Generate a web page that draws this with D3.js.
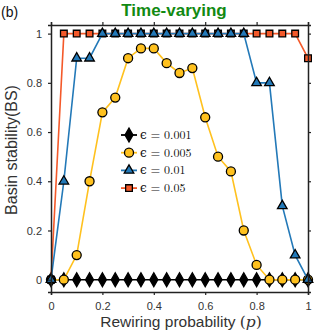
<!DOCTYPE html>
<html>
<head>
<meta charset="utf-8">
<script src="https://cdn.jsdelivr.net/npm/d3@7"></script>
<style>
  body { margin: 0; background: #fff; }
  svg { display: block; font-family: "Liberation Sans", Arial, sans-serif; }
</style>
</head>
<body>
<div id="chart"></div>
<script>
// Rewiring probability p (x values)
const pValues = [0, 0.05, 0.1, 0.15, 0.2, 0.25, 0.3, 0.35, 0.4, 0.45, 0.5,
                 0.55, 0.6, 0.65, 0.7, 0.75, 0.8, 0.85, 0.9, 0.95, 1];

// Basin stability per epsilon
const bsEps0001 = [0, 0, 0, 0, 0, 0, 0, 0, 0, 0, 0, 0, 0, 0, 0, 0, 0, 0, 0, 0, 0];
const bsEps0005 = [0, 0, 0.1, 0.4, 0.68, 0.74, 0.9, 0.94, 0.94, 0.88, 0.84,
                   0.86, 0.66, 0.5, 0.44, 0.2, 0.06, 0, 0, 0, 0];
const bsEps001  = [0, 0.4, 0.9, 0.9, 1, 1, 1, 1, 1, 1, 1,
                   1, 1, 1, 1, 1, 0.8, 0.8, 0.3, 0.1, 0];
const bsEps005  = [0, 1, 1, 1, 1, 1, 1, 1, 1, 1, 1,
                   1, 1, 1, 1, 1, 1, 1, 1, 1, 0.9];

const xTicks = [0, 0.2, 0.4, 0.6, 0.8, 1];
const yTicks = [0, 0.2, 0.4, 0.6, 0.8, 1];

const series = [
    { label: "0.001", values: bsEps0001, color: "#000000", fill: "#000000", symbol: "diamond" },
    { label: "0.005", values: bsEps0005, color: "#FFC11E", fill: "#FFC11E", symbol: "circle" },
    { label: "0.05",  values: bsEps005,  color: "#F4592A", fill: "#F4592A", symbol: "square" },
    { label: "0.01",  values: bsEps001,  color: "#2379B8", fill: "#2379B8", symbol: "triangle" }
];
const legendOrder = ["0.001", "0.005", "0.01", "0.05"];

const width = 316, height = 333;
const margin = { left: 51, right: 8, top: 25, bottom: 41 };

const svg = d3.select("#chart")
    .append("svg")
    .attr("width", width)
    .attr("height", height);

const x = d3.scaleLinear().domain([0, 1]).range([margin.left, width - margin.right]);
const y = d3.scaleLinear().domain([-0.05, 1.035]).range([height - margin.bottom, margin.top]);

// Marker shapes
const symbols = {
    diamond: d3.symbol().type(d3.symbolDiamond).size(55),
    circle: d3.symbol().type(d3.symbolCircle).size(64),
    square: d3.symbol().type(d3.symbolSquare).size(45),
    triangle: d3.symbol().type(d3.symbolTriangle).size(40)
};

// Plot lines and markers
const line = d3.line()
    .x((d, i) => x(pValues[i]))
    .y(d => y(d));

const plot = svg.append("g");
series.forEach(s => {
    const g = plot.append("g");
    g.append("path")
        .datum(s.values)
        .attr("fill", "none")
        .attr("stroke", s.color)
        .attr("stroke-width", 1.6)
        .attr("d", line);
    g.selectAll("path.marker")
        .data(s.values)
        .join("path")
        .attr("class", "marker")
        .attr("transform", (d, i) => `translate(${x(pValues[i])},${y(d)})`)
        .attr("d", symbols[s.symbol])
        .attr("fill", s.fill)
        .attr("stroke", "#000")
        .attr("stroke-width", 1.3);
});

// Axes on all four sides, ticks outward
const axisColor = "#222";
const axBottom = svg.append("g")
    .attr("transform", `translate(0,${height - margin.bottom})`)
    .call(d3.axisBottom(x).tickValues(xTicks).tickSize(3).tickPadding(7).tickFormat(d3.format("~g")));
const axTop = svg.append("g")
    .attr("transform", `translate(0,${margin.top})`)
    .call(d3.axisTop(x).tickValues(xTicks).tickSize(3).tickFormat(""));
const axLeft = svg.append("g")
    .attr("transform", `translate(${margin.left},0)`)
    .call(d3.axisLeft(y).tickValues(yTicks).tickSize(3).tickPadding(6).tickFormat(d3.format("~g")));
const axRight = svg.append("g")
    .attr("transform", `translate(${width - margin.right},0)`)
    .call(d3.axisRight(y).tickValues(yTicks).tickSize(3).tickFormat(""));

[axBottom, axTop, axLeft, axRight].forEach(a => {
    a.select(".domain").attr("stroke", axisColor).attr("stroke-width", 1.5);
    a.selectAll(".tick line").attr("stroke", axisColor).attr("stroke-width", 1.2);
    a.selectAll(".tick text")
        .attr("fill", "#333")
        .attr("font-size", 11)
        .attr("font-family", "'Liberation Sans', Arial, sans-serif");
});

// Legend
const legend = svg.append("g").attr("transform", "translate(121,135)");
legendOrder.forEach((lab, i) => {
    const s = series.find(d => d.label === lab);
    const row = legend.append("g").attr("transform", `translate(0,${i * 17.7})`);
    row.append("line")
        .attr("x1", 0).attr("x2", 16)
        .attr("stroke", s.color)
        .attr("stroke-width", 1.8);
    row.append("path")
        .attr("transform", "translate(8,0)")
        .attr("d", symbols[s.symbol])
        .attr("fill", s.fill)
        .attr("stroke", "#000")
        .attr("stroke-width", 1.3);
    row.append("text")
        .attr("x", 19)
        .attr("y", 4)
        .attr("font-family", "'Latin Modern Roman', 'DejaVu Serif', serif")
        .attr("font-size", 12)
        .attr("fill", "#111")
        .text(`\u03f5 = ${lab}`);
});

// Title and labels
svg.append("text")
    .attr("x", 174)
    .attr("y", 16)
    .attr("text-anchor", "middle")
    .attr("font-size", 17)
    .attr("font-weight", "bold")
    .attr("fill", "#128A12")
    .text("Time-varying");

svg.append("text")
    .attr("x", 1)
    .attr("y", 17)
    .attr("font-size", 14)
    .attr("fill", "#111")
    .text("(b)");

const xLabel = svg.append("text")
    .attr("x", 181)
    .attr("y", 327)
    .attr("text-anchor", "middle")
    .attr("font-size", 15.5)
    .attr("fill", "#333");
xLabel.append("tspan").text("Rewiring probability ");
xLabel.append("tspan").attr("font-family", "'DejaVu Serif', serif").text("(");
xLabel.append("tspan").attr("font-family", "'DejaVu Serif', serif").attr("font-style", "italic").text("p");
xLabel.append("tspan").attr("font-family", "'DejaVu Serif', serif").text(")");

svg.append("text")
    .attr("transform", `translate(17,150) rotate(-90)`)
    .attr("text-anchor", "middle")
    .attr("font-size", 16)
    .attr("fill", "#333")
    .text("Basin stability(BS)");
</script>
</body>
</html>
